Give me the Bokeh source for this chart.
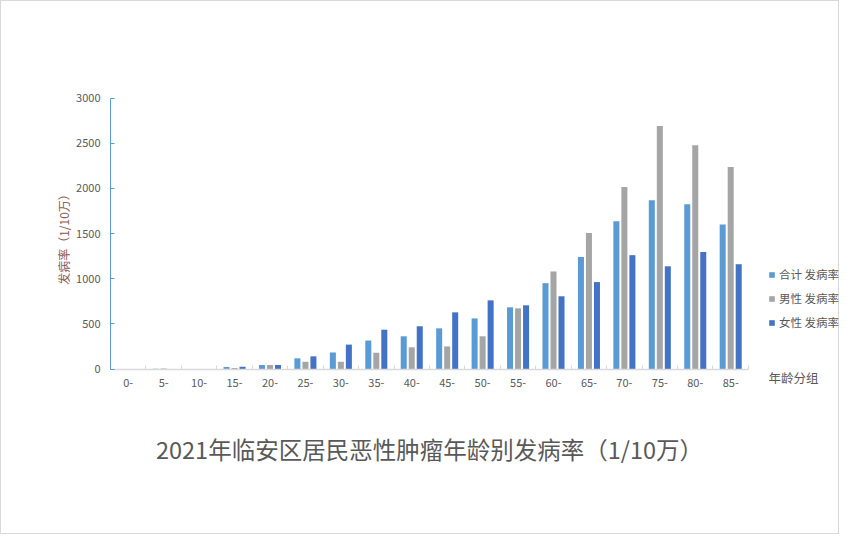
import math
from bokeh.plotting import figure
from bokeh.models import (ColumnDataSource, Range1d, Legend, LegendItem, Label, FixedTicker)
from bokeh.transform import dodge
from bokeh.embed import file_html
from bokeh.resources import INLINE

ages = ["0-", "5-", "10-", "15-", "20-", "25-", "30-", "35-", "40-", "45-",
        "50-", "55-", "60-", "65-", "70-", "75-", "80-", "85-"]
total = [0, 2, 0, 22, 44, 118, 183, 315, 362, 450, 560, 683, 950, 1240, 1635, 1867, 1823, 1601]
male = [0, 6, 0, 12, 44, 80, 80, 180, 240, 250, 362, 672, 1080, 1505, 2015, 2690, 2478, 2235]
female = [0, 0, 0, 25, 44, 140, 270, 435, 473, 627, 760, 705, 805, 962, 1260, 1137, 1295, 1160]
series_names = ["合计 发病率", "男性 发病率", "女性 发病率"]
colors = ["#5B9BD5", "#A5A5A5", "#4472C4"]
y_ticks = [0, 500, 1000, 1500, 2000, 2500, 3000]

FONT = "Noto Sans CJK SC"
TXT = "#595959"

idx = list(range(len(ages)))
src = ColumnDataSource(dict(idx=idx, total=total, male=male, female=female))

W, H = 839, 534
axis_x = 109                   # pixel position of the value axis
zero_y, top_y = 367.5, 96.5    # pixel rows of 0 and 3000
cat_px = 35.44                 # pixels per age group
y_per_px = 3000 / (zero_y - top_y)
x_start = -0.5 - axis_x / cat_px
x_end = -0.5 + (W - axis_x) / cat_px
y_start = -(H - zero_y) * y_per_px
y_end = zero_y * y_per_px


def px_x(px):
    return -0.5 + (px - axis_x) / cat_px


def px_y(py):
    return -(py - zero_y) * y_per_px


p = figure(width=W, height=H, x_range=Range1d(x_start, x_end), y_range=Range1d(y_start, y_end),
           output_backend="svg", toolbar_location=None,
           min_border_left=0, min_border_right=0, min_border_top=0, min_border_bottom=0)
p.styles = {"border": "1px solid #D9D9D9", "box-sizing": "border-box"}
p.outline_line_color = None
p.xgrid.grid_line_color = None
p.ygrid.grid_line_color = None

pitch = 0.226
bw = 0.17
renderers = []
for i, (col, c) in enumerate(zip(["total", "male", "female"], colors)):
    r = p.vbar(x=dodge("idx", (i - 1) * pitch), top=col, width=bw,
               source=src, color=c, line_color=None)
    renderers.append(r)

# x axis at y = 0, labels at group centres, small ticks between groups
xax = p.xaxis[0]
xax.fixed_location = 0
xax.bounds = (-0.5, len(ages) - 0.5)
xax.ticker = FixedTicker(ticks=idx, minor_ticks=[i - 0.5 for i in range(len(ages) + 1)])
xax.major_label_overrides = {i: a for i, a in zip(idx, ages)}
xax.axis_line_color = "#D9D9D9"
xax.axis_line_width = 1.5
xax.major_tick_line_color = None
xax.minor_tick_line_color = "#D9D9D9"
xax.minor_tick_in = 4
xax.minor_tick_out = 0
xax.major_label_text_font = FONT
xax.major_label_text_font_size = "11px"
xax.major_label_text_color = TXT
xax.major_label_standoff = 4

yax = p.yaxis[0]
yax.fixed_location = -0.5
yax.bounds = (0, 3000)
yax.ticker = FixedTicker(ticks=y_ticks)
yax.axis_line_color = "#5B9BD5"
yax.major_tick_line_color = "#5B9BD5"
yax.major_tick_in = 4
yax.major_tick_out = 0
yax.minor_tick_line_color = None
yax.major_label_text_font = FONT
yax.major_label_text_font_size = "11px"
yax.major_label_text_color = TXT
yax.major_label_standoff = 10

p.add_layout(Label(x=px_x(62), y=px_y(235), text="发病率（1/10万）", angle=math.pi / 2,
                   text_align="center", text_baseline="middle",
                   text_font=FONT, text_font_size="12px", text_color="#8C5A4F"))

legend = Legend(items=[LegendItem(label=series_names[i], renderers=[renderers[i]]) for i in range(3)],
                location=(767, 205), padding=0, margin=0, border_line_color=None,
                background_fill_alpha=0, label_text_font=FONT, label_text_font_size="11.5px",
                label_text_color=TXT, glyph_width=7, glyph_height=7, label_height=16,
                label_standoff=4, spacing=8)
p.add_layout(legend, "center")

p.add_layout(Label(x=px_x(767), y=px_y(376), text="年龄分组",
                   text_align="left", text_baseline="middle",
                   text_font=FONT, text_font_size="12.5px", text_color=TXT))
p.add_layout(Label(x=px_x(428), y=px_y(447),
                   text="2021年临安区居民恶性肿瘤年龄别发病率（1/10万）",
                   text_align="center", text_baseline="middle",
                   text_font=FONT, text_font_size="23.5px", text_color=TXT))

open("out.html", "w").write(file_html(p, INLINE))
